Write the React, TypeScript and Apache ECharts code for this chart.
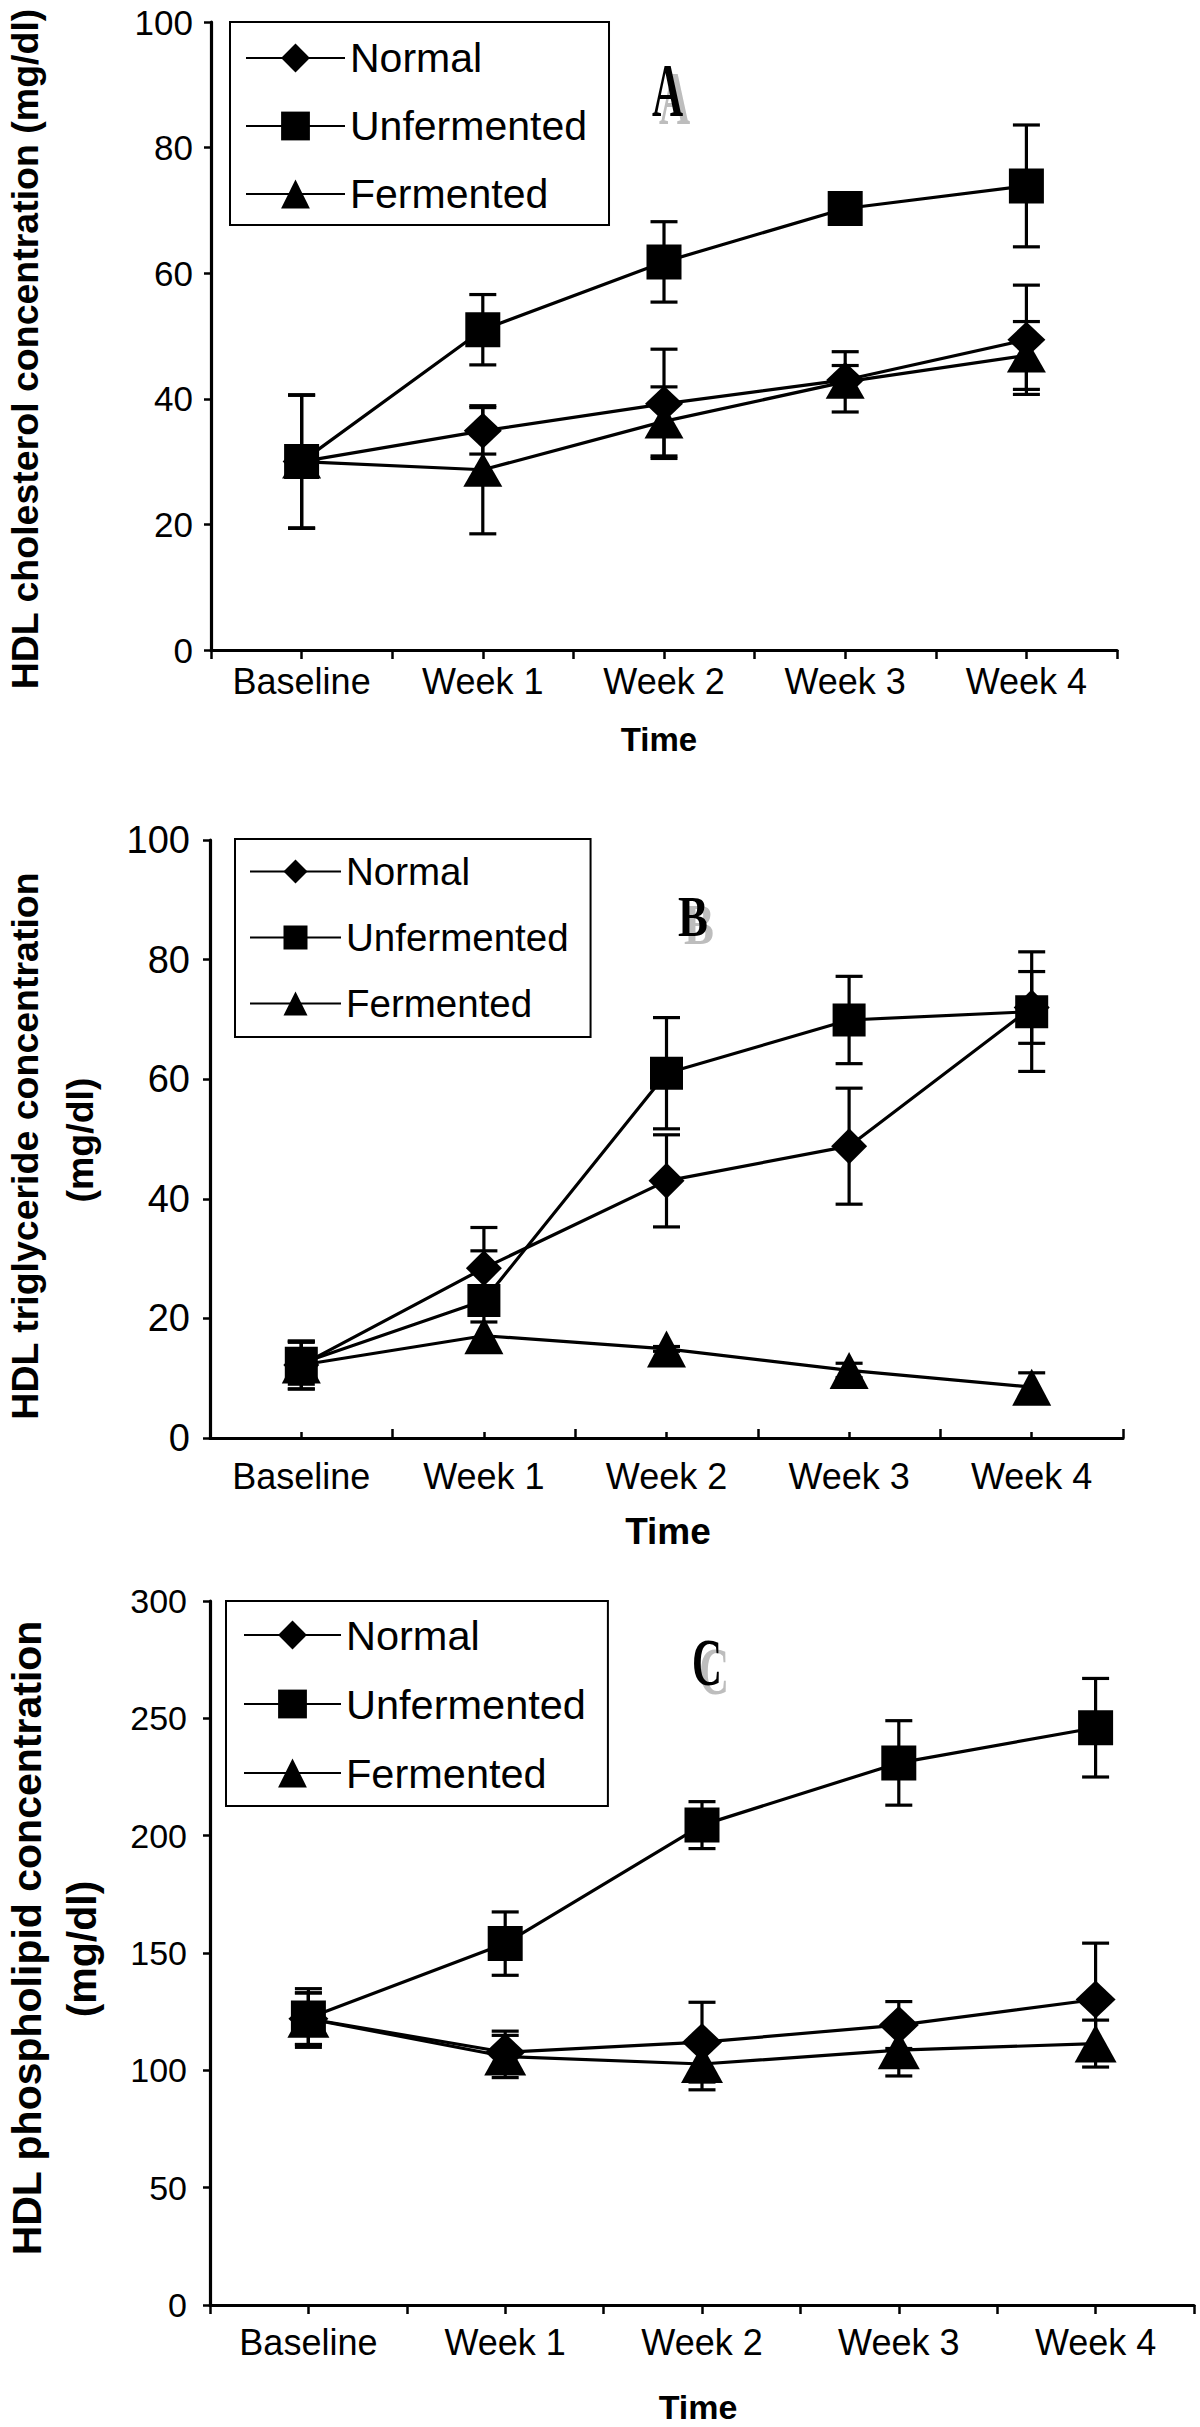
import React, { useEffect, useRef } from "react";
import * as echarts from "echarts";

// ---------- data ----------
const categories = ["Baseline", "Week 1", "Week 2", "Week 3", "Week 4"];
const seriesNames = ["Normal", "Unfermented", "Fermented"];

// Panel A: HDL cholesterol (mg/dl)
const aNormal = [30, 34.9, 39.2, 43.0, 49.4];
const aNormalErr = [10.6, 3.7, 8.7, 2.3, 8.7];
const aUnfermented = [30, 51.0, 61.8, 70.3, 73.9];
const aUnfermentedErr = [10.6, 5.6, 6.4, 1.2, 9.7];
const aFermented = [30, 28.7, 36.4, 42.7, 46.9];
const aFermentedErr = [10.6, 10.2, 5.5, 4.8, 5.4];

// Panel B: HDL triglyceride (mg/dl)
const bNormal = [12.2, 28.4, 43.0, 48.8, 72.0];
const bNormalErr = [4.0, 6.8, 7.7, 9.7, 6.0];
const bUnfermented = [12.5, 23.0, 61.0, 69.9, 71.3];
const bUnfermentedErr = [3.5, 8.3, 9.3, 7.3, 10.0];
const bFermented = [12.2, 17.1, 14.9, 11.3, 8.5];
const bFermentedErr = [4.0, 2.3, 0.4, 1.2, 2.4];

// Panel C: HDL phospholipid (mg/dl)
const cNormal = [122, 107.7, 112, 119.3, 130.2];
const cNormalErr = [11, 9, 17, 10, 24];
const cUnfermented = [122.3, 154, 204.5, 231, 246];
const cUnfermentedErr = [12.5, 13.5, 10, 18, 21];
const cFermented = [122, 105.9, 102.7, 108.6, 111.4];
const cFermentedErr = [11, 9, 11, 11, 10];

const yTicksA = { min: 0, max: 100, interval: 20 };
const yTicksB = { min: 0, max: 100, interval: 20 };
const yTicksC = { min: 0, max: 300, interval: 50 };

const FONT = '"Liberation Sans", Arial, sans-serif';
const SERIF = '"Liberation Serif", "Times New Roman", serif';
const LW = 3.2;

function errData(vals: number[], errs: number[]) {
  return vals.map((v, i) => [i, v, errs[i]]);
}

function errorSeries(name: string, idx: number, vals: number[], errs: number[]) {
  return {
    type: "custom",
    name,
    xAxisIndex: idx * 2,
    yAxisIndex: idx,
    z: 1,
    silent: true,
    encode: { x: 0, y: 1 },
    data: errData(vals, errs),
    renderItem: (params: any, api: any) => {
      const x = api.value(0);
      const y = api.value(1);
      const e = api.value(2);
      const top = api.coord([x, y + e]);
      const bot = api.coord([x, y - e]);
      const hw = 13.5;
      const st = { stroke: "#000", lineWidth: LW };
      return {
        type: "group",
        children: [
          { type: "line", shape: { x1: top[0], y1: top[1], x2: bot[0], y2: bot[1] }, style: st },
          { type: "line", shape: { x1: top[0] - hw, y1: top[1], x2: top[0] + hw, y2: top[1] }, style: st },
          { type: "line", shape: { x1: bot[0] - hw, y1: bot[1], x2: bot[0] + hw, y2: bot[1] }, style: st },
        ],
      };
    },
  };
}

function lineSeries(name: string, idx: number, vals: number[], symbol: string, size: any) {
  return {
    type: "line",
    name,
    xAxisIndex: idx * 2,
    yAxisIndex: idx,
    z: 3,
    data: vals,
    symbol,
    symbolSize: size,
    showAllSymbol: true,
    itemStyle: { color: "#000", borderWidth: 0 },
    lineStyle: { color: "#000", width: LW },
  };
}

function xAxes(idx: number, labelSize: number, margin: number, inside: boolean, cLen: number, bLen: number) {
  return [
    {
      type: "category",
      gridIndex: idx,
      position: "bottom",
      data: categories,
      boundaryGap: true,
      axisLine: { show: true, lineStyle: { color: "#000", width: LW } },
      axisTick: { show: true, inside, alignWithLabel: true, length: cLen, lineStyle: { color: "#000", width: 2.5 } },
      axisLabel: { color: "#000", fontSize: labelSize, fontFamily: FONT, margin, interval: 0 },
      splitLine: { show: false },
    },
    {
      type: "category",
      gridIndex: idx,
      position: "bottom",
      data: categories,
      boundaryGap: true,
      axisLine: { show: false },
      axisTick: { show: true, inside, length: bLen, lineStyle: { color: "#000", width: 2.5 } },
      axisLabel: { show: false },
      splitLine: { show: false },
    },
  ];
}

function yAxis(idx: number, t: any, labelSize: number, margin: number) {
  return {
    type: "value",
    gridIndex: idx,
    min: t.min,
    max: t.max,
    interval: t.interval,
    axisLine: { show: true, lineStyle: { color: "#000", width: LW } },
    axisTick: { show: true, length: 7, lineStyle: { color: "#000", width: 2.5 } },
    axisLabel: { color: "#000", fontSize: labelSize, fontFamily: FONT, margin },
    splitLine: { show: false },
  };
}

function legend(left: number, top: number, itemWidth: number, itemHeight: number, itemGap: number, padding: number[], fontSize: number) {
  return {
    orient: "vertical",
    left,
    top,
    data: seriesNames,
    itemWidth,
    itemHeight,
    itemGap,
    padding,
    borderColor: "#000",
    borderWidth: 2,
    backgroundColor: "#fff",
    selectedMode: false,
    textStyle: { color: "#000", fontSize, fontFamily: FONT },
  };
}

function vText(x: number, y: number, text: string, size: number) {
  return {
    type: "text",
    x,
    y,
    rotation: Math.PI / 2,
    style: { text, fontFamily: FONT, fontWeight: "bold", fontSize: size, fill: "#000", align: "center", verticalAlign: "middle" },
  };
}

function hText(x: number, y: number, text: string, size: number) {
  return {
    type: "text",
    x,
    y,
    style: { text, fontFamily: FONT, fontWeight: "bold", fontSize: size, fill: "#000", align: "center", verticalAlign: "middle" },
  };
}

function letter(x: number, y: number, text: string, size: number, sx: number, dx: number, dy: number) {
  const st = (fill: string) => ({ text, fontFamily: SERIF, fontWeight: "bold", fontSize: size, fill, align: "center", verticalAlign: "middle" });
  return [
    { type: "text", x: x + dx, y: y + dy, scaleX: sx, style: st("#bdbdbd") },
    { type: "text", x, y, scaleX: sx, style: st("#000") },
  ];
}

export default function App() {
  const ref = useRef<HTMLDivElement>(null);
  useEffect(() => {
    if (!ref.current) return;
    const chart = echarts.init(ref.current, undefined, { renderer: "svg" });
    const option: any = {
      animation: false,
      backgroundColor: "#fff",
      grid: [
        { left: 211, top: 22, width: 906, height: 628, outerBoundsMode: "none" },
        { left: 210, top: 840, width: 913, height: 598, outerBoundsMode: "none" },
        { left: 210, top: 1601, width: 984, height: 704, outerBoundsMode: "none" },
      ],
      xAxis: [...xAxes(0, 36, 13, false, 9, 9), ...xAxes(1, 36, 20, true, 6, 9), ...xAxes(2, 36, 19, false, 9, 9)],
      yAxis: [yAxis(0, yTicksA, 35, 18), yAxis(1, yTicksB, 38, 20), yAxis(2, yTicksC, 34, 23)],
      legend: [
        legend(230, 22, 99, 36, 27, [15.5, 22, 10.5, 15], 41),
        legend(235, 839, 91, 30, 27, [13, 22, 14, 14], 38.5),
        legend(226, 1601, 97, 36, 27, [13, 22, 12, 17], 41.5),
      ],
      series: [
        errorSeries("errA1", 0, aNormal, aNormalErr),
        errorSeries("errA2", 0, aUnfermented, aUnfermentedErr),
        errorSeries("errA3", 0, aFermented, aFermentedErr),
        lineSeries("Normal", 0, aNormal, "diamond", [38, 36]),
        lineSeries("Unfermented", 0, aUnfermented, "rect", 35),
        lineSeries("Fermented", 0, aFermented, "triangle", [39, 34]),

        errorSeries("errB1", 1, bNormal, bNormalErr),
        errorSeries("errB2", 1, bUnfermented, bUnfermentedErr),
        errorSeries("errB3", 1, bFermented, bFermentedErr),
        lineSeries("Normal", 1, bNormal, "diamond", [36, 36]),
        lineSeries("Unfermented", 1, bUnfermented, "rect", 33),
        lineSeries("Fermented", 1, bFermented, "triangle", [39, 37]),

        errorSeries("errC1", 2, cNormal, cNormalErr),
        errorSeries("errC2", 2, cUnfermented, cUnfermentedErr),
        errorSeries("errC3", 2, cFermented, cFermentedErr),
        lineSeries("Normal", 2, cNormal, "diamond", [40, 38]),
        lineSeries("Unfermented", 2, cUnfermented, "rect", 35),
        lineSeries("Fermented", 2, cFermented, "triangle", [42, 38]),
      ],
      graphic: [
        vText(25, 349, "HDL cholesterol concentration (mg/dl)", 37.5),
        vText(25, 1146, "HDL triglyceride concentration", 37.5),
        vText(80, 1140, "(mg/dl)", 37.5),
        vText(27, 1938, "HDL phospholipid concentration", 41),
        vText(82, 1949, "(mg/dl)", 41),
        hText(659, 739, "Time", 33),
        hText(668, 1531, "Time", 37),
        hText(698, 2407, "Time", 34),
        ...letter(667.5, 89, "A", 77, 0.56, 7, 8),
        ...letter(693, 917, "B", 56, 0.8, 6, 8),
        ...letter(707, 1662, "C", 68, 0.61, 7, 9),
      ],
    };
    chart.setOption(option);
    return () => chart.dispose();
  }, []);
  return <div ref={ref} style={{ position: "absolute", left: 0, top: 0, width: 1200, height: 2427, background: "#fff" }} />;
}
